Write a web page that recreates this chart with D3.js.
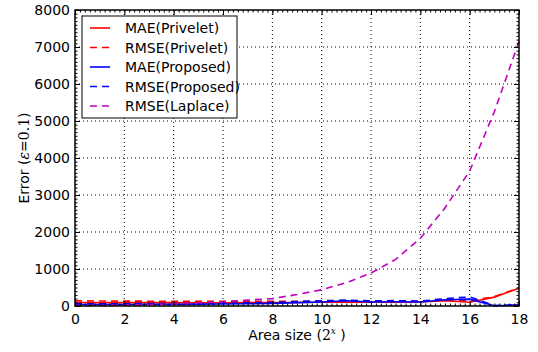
<!DOCTYPE html>
<html>
<head>
<meta charset="utf-8">
<script src="https://cdn.jsdelivr.net/npm/d3@7"></script>
<style>
  body { margin: 0; background: #fff; }
  text { font-family: "DejaVu Sans", sans-serif; }
</style>
</head>
<body>
<div id="chart"></div>
<script>
// data
var areaSize = [0, 1, 2, 3, 4, 5, 6, 7, 8, 9, 10, 11, 12, 13, 14, 15, 16, 17, 18];
var maePrivelet = [95, 92, 90, 90, 90, 88, 88, 90, 92, 95, 100, 105, 100, 100, 110, 140, 100, 240, 480];
var rmsePrivelet = [140, 135, 132, 130, 128, 126, 125, 125, 126, 128, 130, 130, 125, 125, 125, 160, 135, 255, 490];
var maeProposed = [40, 40, 42, 45, 45, 50, 55, 60, 70, 90, 110, 140, 110, 115, 110, 170, 185, 5, 30];
var rmseProposed = [60, 60, 62, 65, 68, 72, 78, 85, 95, 120, 140, 160, 140, 145, 130, 200, 245, 10, 35];
var rmseLaplace = [14, 20, 28, 40, 56, 80, 112, 160, 200, 310, 440, 630, 890, 1260, 1830, 2650, 3650, 5250, 7150];
var xTicks = [0, 2, 4, 6, 8, 10, 12, 14, 16, 18];
var yTicks = [0, 1000, 2000, 3000, 4000, 5000, 6000, 7000, 8000];

var series = [
  { name: "MAE(Privelet)", values: maePrivelet, color: "#ff0000", dash: null },
  { name: "RMSE(Privelet)", values: rmsePrivelet, color: "#ff0000", dash: "7,5" },
  { name: "MAE(Proposed)", values: maeProposed, color: "#0000ff", dash: null },
  { name: "RMSE(Proposed)", values: rmseProposed, color: "#0000ff", dash: "7,5" },
  { name: "RMSE(Laplace)", values: rmseLaplace, color: "#bf00bf", dash: "7,5" }
];

var svgWidth = 538;
var svgHeight = 352;
var margin = { top: 10, right: 19, bottom: 46, left: 75 };
var width = svgWidth - margin.left - margin.right;
var height = svgHeight - margin.top - margin.bottom;
var fs = 14;

var svg = d3.select("#chart")
  .append("svg")
  .attr("width", svgWidth)
  .attr("height", svgHeight);

var chartGroup = svg.append("g")
  .attr("transform", `translate(${margin.left}, ${margin.top})`);

var x = d3.scaleLinear().domain([0, 18]).range([0, width]);
var y = d3.scaleLinear().domain([0, 8000]).range([height, 0]);

// grid (dotted)
chartGroup.append("g").selectAll("line")
  .data(xTicks.slice(1, -1))
  .enter().append("line")
  .attr("x1", d => x(d)).attr("x2", d => x(d))
  .attr("y1", 0).attr("y2", height)
  .attr("stroke", "#000").attr("stroke-width", 1)
  .attr("stroke-dasharray", "1,3");

chartGroup.append("g").selectAll("line")
  .data(yTicks.slice(1, -1))
  .enter().append("line")
  .attr("x1", 0).attr("x2", width)
  .attr("y1", d => y(d)).attr("y2", d => y(d))
  .attr("stroke", "#000").attr("stroke-width", 1)
  .attr("stroke-dasharray", "1,3");

// lines
var line = d3.line()
  .x((d, i) => x(areaSize[i]))
  .y(d => y(d));

series.forEach(function(s) {
  chartGroup.append("path")
    .datum(s.values)
    .attr("fill", "none")
    .attr("stroke", s.color)
    .attr("stroke-width", 1.6)
    .attr("stroke-dasharray", s.dash)
    .attr("d", line);
});

// axes with inward ticks on all four sides
var bottomAxis = d3.axisBottom(x).tickValues(xTicks).tickSizeInner(-5).tickSizeOuter(0).tickPadding(8);
var leftAxis = d3.axisLeft(y).tickValues(yTicks).tickFormat(d3.format("d"))
  .tickSizeInner(-5).tickSizeOuter(0).tickPadding(5);

chartGroup.append("g")
  .attr("transform", `translate(0, ${height})`)
  .call(bottomAxis);
chartGroup.append("g").call(leftAxis);

chartGroup.append("g").call(d3.axisTop(x).tickValues(xTicks).tickSizeInner(-5).tickSizeOuter(0).tickFormat(""));
chartGroup.append("g").attr("transform", `translate(${width}, 0)`)
  .call(d3.axisRight(y).tickValues(yTicks).tickSizeInner(-5).tickSizeOuter(0).tickFormat(""));

// minor ticks
var xMinor = d3.range(0, 18.01, 0.2);
var yMinor = d3.range(0, 8001, 100);
chartGroup.append("g").attr("transform", `translate(0, ${height})`)
  .call(d3.axisBottom(x).tickValues(xMinor).tickSizeInner(-2.5).tickSizeOuter(0).tickFormat(""));
chartGroup.append("g")
  .call(d3.axisTop(x).tickValues(xMinor).tickSizeInner(-2.5).tickSizeOuter(0).tickFormat(""));
chartGroup.append("g")
  .call(d3.axisLeft(y).tickValues(yMinor).tickSizeInner(-2.5).tickSizeOuter(0).tickFormat(""));
chartGroup.append("g").attr("transform", `translate(${width}, 0)`)
  .call(d3.axisRight(y).tickValues(yMinor).tickSizeInner(-2.5).tickSizeOuter(0).tickFormat(""));

chartGroup.selectAll(".domain").remove();
chartGroup.selectAll(".tick text").attr("font-size", fs).attr("fill", "#000")
  .attr("font-family", "DejaVu Sans");

// frame
chartGroup.append("rect")
  .attr("width", width).attr("height", height)
  .attr("fill", "none").attr("stroke", "#000").attr("stroke-width", 1.5);

// axis labels
var yl = svg.append("text")
  .attr("transform", `translate(29, ${margin.top + height / 2}) rotate(-90)`)
  .attr("text-anchor", "middle")
  .attr("font-size", fs);
yl.append("tspan").text("Error (");
yl.append("tspan").attr("font-family", "DejaVu Serif").attr("font-style", "italic").text("ε");
yl.append("tspan").attr("font-family", "DejaVu Serif").text("=0.1");
yl.append("tspan").text(")");

var xl = svg.append("text")
  .attr("x", margin.left + width / 2)
  .attr("y", 340)
  .attr("text-anchor", "middle")
  .attr("font-size", fs);
xl.append("tspan").text("Area size (");
xl.append("tspan").attr("font-family", "DejaVu Serif").text("2");
xl.append("tspan").attr("font-family", "DejaVu Serif").attr("font-style", "italic")
  .attr("font-size", 9).attr("dy", -6).text("x");
xl.append("tspan").attr("dy", 6).text(" )");

// legend
var legend = svg.append("g").attr("transform", "translate(82, 16)");
legend.append("rect")
  .attr("width", 155).attr("height", 102)
  .attr("fill", "#fff").attr("stroke", "#000").attr("stroke-width", 1);

series.forEach(function(s, i) {
  var ly = 12 + i * 19.5;
  legend.append("line")
    .attr("x1", 8).attr("x2", 28)
    .attr("y1", ly).attr("y2", ly)
    .attr("stroke", s.color).attr("stroke-width", 1.6)
    .attr("stroke-dasharray", s.dash);
  legend.append("text")
    .attr("x", 43).attr("y", ly + 5)
    .attr("font-size", fs)
    .text(s.name);
});
</script>
</body>
</html>
